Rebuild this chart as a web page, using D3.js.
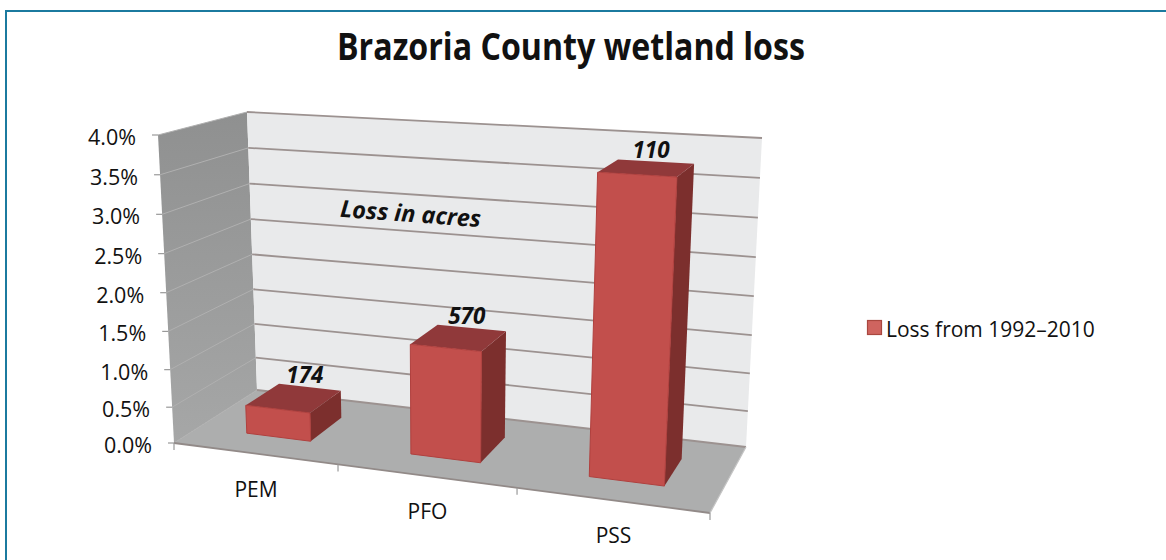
<!DOCTYPE html>
<html>
<head>
<meta charset="utf-8">
<script src="https://cdn.jsdelivr.net/npm/d3@7"></script>
<style>
body { margin: 0; background: #fff; }
text { font-family: "Open Sans", sans-serif; fill: #111; }
</style>
</head>
<body>
<script>
var width = 1166, height = 560;

var categories = ['PEM', 'PFO', 'PSS'];
var lossPercent = [0.4, 1.45, 3.75];
var acreLabels = ['174', '570', '110'];
var yTicks = [0, 0.5, 1, 1.5, 2, 2.5, 3, 3.5, 4];
var titleText = 'Brazoria County wetland loss';
var legendText = 'Loss from 1992–2010';
var noteText = 'Loss in acres';

// corners of the fake 3D box, front/back + bottom/top
var box = {
    fl0: [174, 443], fl1: [158, 135],
    bl0: [257, 390], bl1: [247, 112],
    br0: [746, 447], br1: [762, 138],
    fr0: [710, 513], fr1: [727, 168]
};

// perspective is faked: power curve on values, uneven stops on categories
var yScale = d3.scalePow().exponent(1.035).domain([0, 4]).range([0, 1]);
var xScale = d3.scaleLinear().domain([0, 1, 2, 3]).range([0, 0.306, 0.64, 1]);
var depthScale = d3.scaleLinear().domain([0, 1]).range([0.3, 0.72]);

function lerp(a, b, t) {
    return [a[0] + (b[0] - a[0]) * t, a[1] + (b[1] - a[1]) * t];
}

function project(u, d, t) {
    var f = lerp(lerp(box.fl0, box.fr0, u), lerp(box.fl1, box.fr1, u), t);
    var b = lerp(lerp(box.bl0, box.br0, u), lerp(box.bl1, box.br1, u), t);
    return lerp(f, b, d);
}

function poly(pts) {
    return d3.line()(pts) + 'Z';
}

var svg = d3.select('body').append('svg').attr('width', width).attr('height', height)
    .style('display', 'block');

// frame is only left and top, it runs off the picture
svg.append('path').attr('d', d3.line()([[6, height], [6, 11], [width, 11]]))
    .attr('fill', 'none').attr('stroke', '#1b7a9f').attr('stroke-width', 2);

svg.append('text').attr('x', 571).attr('y', 60).attr('text-anchor', 'middle')
    .attr('font-size', 37).attr('font-weight', 700)
    .attr('textLength', 468).attr('lengthAdjust', 'spacingAndGlyphs')
    .attr('fill', '#000').text(titleText);

var wallGrad = svg.append('defs').append('linearGradient').attr('id', 'wallGrad')
    .attr('x1', 0).attr('y1', 0).attr('x2', 0).attr('y2', 1);
wallGrad.append('stop').attr('offset', 0).attr('stop-color', '#8f9090');
wallGrad.append('stop').attr('offset', 1).attr('stop-color', '#a6a7a7');

// walls and floor
svg.append('path').attr('d', poly([box.fl1, box.bl1, box.bl0, box.fl0])).attr('fill', 'url(#wallGrad)');
svg.append('path').attr('d', poly([box.bl1, box.br1, box.br0, box.bl0])).attr('fill', '#e9eaeb');
svg.append('path').attr('d', poly([box.fl0, box.bl0, box.br0, box.fr0])).attr('fill', '#adaeae');

// gridlines on both walls
svg.append('g').selectAll('path').data(yTicks).join('path')
    .attr('d', function (v) { return d3.line()([project(0, 0, yScale(v)), project(0, 1, yScale(v))]); })
    .attr('fill', 'none').attr('stroke', '#b0b0b0').attr('stroke-width', 1);

svg.append('g').selectAll('path').data(yTicks).join('path')
    .attr('d', function (v) { return d3.line()([project(0, 1, yScale(v)), project(1, 1, yScale(v))]); })
    .attr('fill', 'none').attr('stroke', '#9c9290').attr('stroke-width', 1.8);

// y axis ticks and labels
var yAxis = svg.append('g').selectAll('g').data(yTicks).join('g');
yAxis.append('line')
    .attr('x1', function (v) { return project(0, 0, yScale(v))[0] - 6; })
    .attr('y1', function (v) { return project(0, 0, yScale(v))[1]; })
    .attr('x2', function (v) { return project(0, 0, yScale(v))[0]; })
    .attr('y2', function (v) { return project(0, 0, yScale(v))[1]; })
    .attr('stroke', '#999').attr('stroke-width', 1.2);
yAxis.append('text')
    .attr('x', function (v) { return project(0, 0, yScale(v))[0] - 22; })
    .attr('y', function (v) { return project(0, 0, yScale(v))[1] + 10; })
    .attr('text-anchor', 'end').attr('font-size', 21.5)
    .text(function (v) { return d3.format('.1f')(v) + '%'; });

// front edges of the floor with category ticks
svg.append('path').attr('d', d3.line()([box.fl0, box.fr0]))
    .attr('stroke', '#928a88').attr('stroke-width', 1.8).attr('fill', 'none');
svg.append('path').attr('d', d3.line()([box.fr0, box.br0]))
    .attr('stroke', '#c4c4c4').attr('stroke-width', 1.2).attr('fill', 'none');
svg.append('g').selectAll('line').data(d3.range(categories.length + 1)).join('line')
    .attr('x1', function (i) { return project(xScale(i), 0, 0)[0]; })
    .attr('y1', function (i) { return project(xScale(i), 0, 0)[1]; })
    .attr('x2', function (i) { return project(xScale(i), 0, 0)[0]; })
    .attr('y2', function (i) { return project(xScale(i), 0, 0)[1] + 7; })
    .attr('stroke', '#999').attr('stroke-width', 1.2);

// bars, back to front does not matter since they do not overlap
var bars = svg.append('g').selectAll('g').data(categories).join('g');

function barCorners(i) {
    var u0 = xScale(i + 0.3), u1 = xScale(i + 0.7);
    var d0 = depthScale(0), d1 = depthScale(1);
    var t = yScale(lossPercent[i]);
    return {
        a: project(u0, d0, 0), b: project(u1, d0, 0), c: project(u1, d0, t), e: project(u0, d0, t),
        f: project(u1, d1, 0), g: project(u1, d1, t), h: project(u0, d1, t)
    };
}

bars.append('path').attr('d', function (c, i) { var p = barCorners(i); return poly([p.b, p.f, p.g, p.c]); })
    .attr('fill', '#7c2f2d');
bars.append('path').attr('d', function (c, i) { var p = barCorners(i); return poly([p.e, p.c, p.g, p.h]); })
    .attr('fill', '#90393a');
bars.append('path').attr('d', function (c, i) { var p = barCorners(i); return poly([p.a, p.b, p.c, p.e]); })
    .attr('fill', '#c24f4c').attr('stroke', '#b0403e').attr('stroke-width', 1);

// italic acreage labels above each bar
bars.append('text')
    .attr('x', function (c, i) { var p = barCorners(i); return (p.h[0] + p.g[0]) / 2 - 5; })
    .attr('y', function (c, i) { var p = barCorners(i); return (p.h[1] + p.g[1]) / 2 - 4; })
    .attr('text-anchor', 'middle').attr('font-size', 22.5).attr('font-weight', 700).attr('font-style', 'italic')
    .attr('fill', '#000')
    .text(function (c, i) { return acreLabels[i]; });

// category labels, stepping down with the front edge
bars.append('text')
    .attr('x', function (c, i) { return project(xScale(i + 0.5), 0, 0)[0]; })
    .attr('y', function (c, i) { return project(xScale(i + 0.5), 0, 0)[1] + 43; })
    .attr('text-anchor', 'middle').attr('font-size', 21)
    .text(function (c) { return c; });

svg.append('text').attr('transform', 'translate(410,222) rotate(4.2)').attr('text-anchor', 'middle')
    .attr('font-size', 23.5).attr('font-weight', 700).attr('font-style', 'italic')
    .attr('fill', '#000').text(noteText);

// legend
svg.append('rect').attr('x', 867.5).attr('y', 320.5).attr('width', 14).attr('height', 14)
    .attr('fill', '#cf645f').attr('stroke', '#a9473f').attr('stroke-width', 1.2);
svg.append('text').attr('x', 886).attr('y', 337).attr('font-size', 21).text(legendText);
</script>
</body>
</html>
